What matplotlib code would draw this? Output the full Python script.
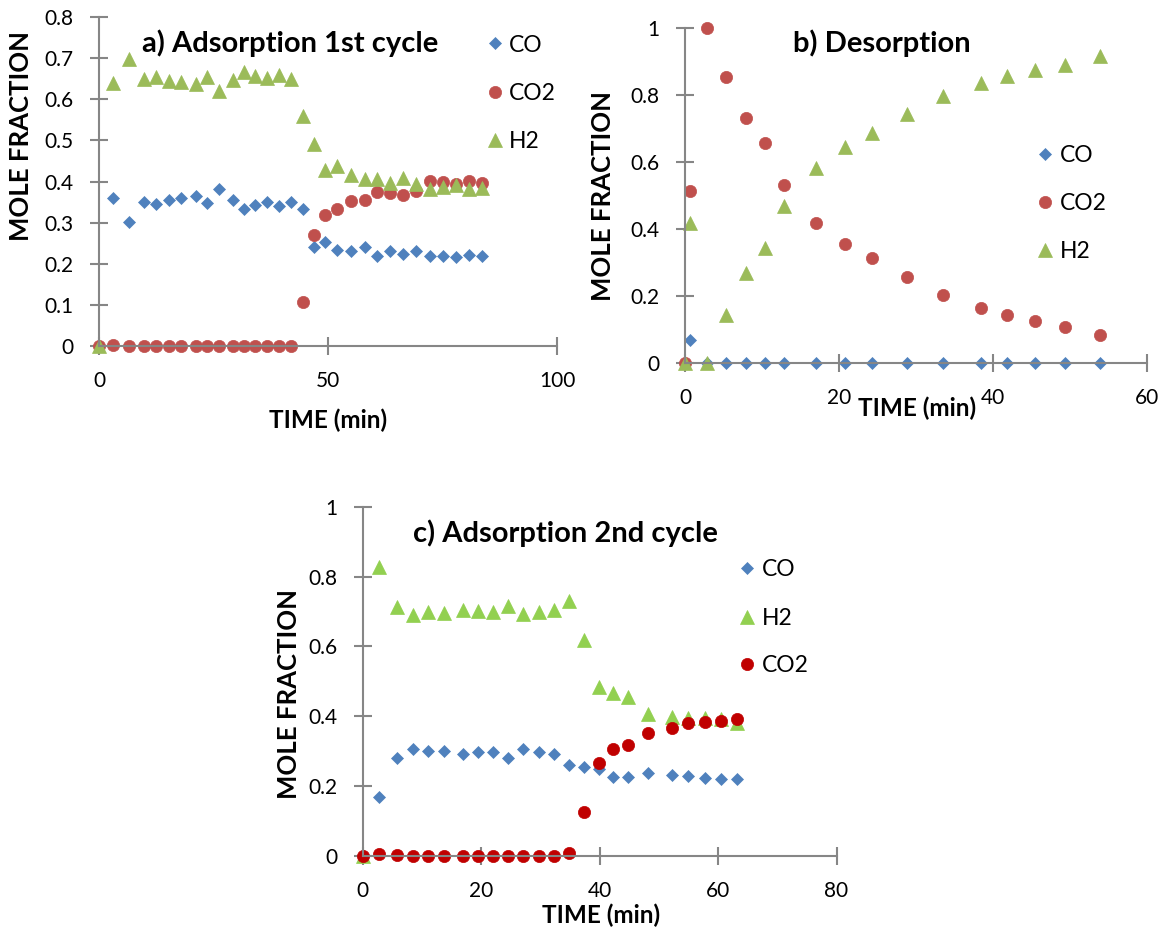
import matplotlib
matplotlib.use("Agg")
import matplotlib.pyplot as plt
from matplotlib.lines import Line2D

plt.rcParams['font.family'] = ['Lato', 'DejaVu Sans']

# ---------------- data ----------------
# a) Adsorption 1st cycle
time_a = [0, 3.1, 6.6, 9.9, 12.5, 15.2, 18.0, 21.1, 23.5, 26.1, 29.3, 31.6, 34.1, 36.6, 39.3,
          41.9, 44.5, 46.9, 49.4, 52.0, 55.1, 58.1, 60.8, 63.5, 66.3, 69.2, 72.3, 75.2, 78.0, 80.7, 83.6]
co_a = [0, 0.359, 0.302, 0.350, 0.345, 0.355, 0.359, 0.364, 0.347, 0.381, 0.354, 0.334, 0.343, 0.349, 0.340,
        0.351, 0.332, 0.240, 0.253, 0.233, 0.231, 0.241, 0.220, 0.231, 0.224, 0.231, 0.219, 0.219, 0.217, 0.222, 0.220]
co2_a = [0, 0.003, 0, 0, 0, 0, 0, 0, 0, 0, 0, 0, 0, 0, 0,
         0, 0.108, 0.270, 0.319, 0.332, 0.353, 0.355, 0.375, 0.372, 0.367, 0.377, 0.401, 0.398, 0.394, 0.401, 0.397]
h2_a = [0, 0.640, 0.698, 0.650, 0.653, 0.645, 0.641, 0.636, 0.653, 0.619, 0.648, 0.666, 0.657, 0.652, 0.659,
        0.649, 0.560, 0.490, 0.428, 0.437, 0.417, 0.405, 0.405, 0.397, 0.409, 0.393, 0.381, 0.386, 0.391, 0.381, 0.385]

# b) Desorption
time_b = [0, 0.6, 2.8, 5.3, 7.9, 10.4, 12.9, 17.0, 20.8, 24.3, 28.8, 33.5, 38.4, 41.8, 45.5, 49.3, 53.9]
co_b = [0, 0.070, 0, 0, 0, 0, 0, 0, 0, 0, 0, 0, 0, 0, 0, 0, 0]
co2_b = [0, 0.512, 1.0, 0.855, 0.732, 0.657, 0.531, 0.418, 0.356, 0.313, 0.256, 0.203, 0.163, 0.143, 0.124, 0.108, 0.085]
h2_b = [0, 0.418, 0, 0.144, 0.269, 0.344, 0.469, 0.582, 0.644, 0.687, 0.744, 0.797, 0.836, 0.856, 0.876, 0.891, 0.915]

# c) Adsorption 2nd cycle
time_c = [0, 2.8, 5.85, 8.5, 11.0, 13.8, 17.0, 19.5, 22.0, 24.6, 27.1, 29.8, 32.3, 34.8,
          37.35, 39.9, 42.3, 44.8, 48.1, 52.25, 55.0, 57.8, 60.5, 63.2]
co_c = [0, 0.167, 0.281, 0.307, 0.299, 0.301, 0.292, 0.296, 0.296, 0.281, 0.305, 0.296, 0.292, 0.260,
        0.254, 0.248, 0.227, 0.225, 0.236, 0.230, 0.229, 0.222, 0.220, 0.220]
h2_c = [0, 0.827, 0.713, 0.691, 0.698, 0.696, 0.705, 0.702, 0.700, 0.715, 0.693, 0.700, 0.705, 0.729,
        0.619, 0.483, 0.466, 0.455, 0.407, 0.399, 0.394, 0.394, 0.392, 0.380]
co2_c = [0, 0.005, 0.002, 0, 0, 0, 0, 0, 0, 0, 0, 0, 0, 0.008,
         0.125, 0.266, 0.305, 0.318, 0.353, 0.367, 0.380, 0.383, 0.387, 0.392]

# ---------------- style ----------------
W, H = 1173, 939
fig = plt.figure(figsize=(W / 100, H / 100), dpi=100)

BLUE = '#4F81BD'
RED = '#C0504D'
GREEN = '#9BBB59'
GREEN2 = '#92D050'
RED2 = '#C00000'
AXC = '#868686'

MK = {'D': 6.1, 'o': 8.8, '^': 9.4}

TICK_FS = 15
LEG_FS = 16.5
YLAB_FS = 18.5
XLAB_FS = 17.5
TIT_FS = 21


def fx(px):
    return px / W


def fy(py):
    return 1 - py / H


def make_axes(left, right, top, bottom):
    ax = fig.add_axes([fx(left), fy(bottom), fx(right) - fx(left), fy(top) - fy(bottom)])
    ax.set_facecolor('none')
    for s in ('top', 'right'):
        ax.spines[s].set_visible(False)
    for s in ('left', 'bottom'):
        ax.spines[s].set_color(AXC)
        ax.spines[s].set_linewidth(1.5)
    ax.tick_params(direction='inout', length=12.5, width=1.5, color=AXC,
                   labelsize=TICK_FS, pad=12, labelcolor='black')
    return ax


def fmt(v):
    return f"{v:g}"


def scatter(ax, x, y, marker, color):
    ax.plot(x, y, linestyle='none', marker=marker, markersize=MK[marker],
            markerfacecolor=color, markeredgecolor=color, markeredgewidth=0.5, clip_on=False)


def legend(entries, mx, tx, ys):
    for (label, marker, color), y in zip(entries, ys):
        fig.lines.append(Line2D([fx(mx)], [fy(y)], transform=fig.transFigure, linestyle='none',
                                marker=marker, markersize=MK[marker], markerfacecolor=color,
                                markeredgecolor=color, markeredgewidth=0.5))
        fig.text(fx(tx), fy(y), label, fontsize=LEG_FS, ha='left', va='center_baseline')


def ylabel(x, y):
    fig.text(fx(x), fy(y), 'MOLE FRACTION', fontsize=YLAB_FS, fontweight='bold', rotation=90,
             ha='center', va='center')


def xlabel(x, y):
    fig.text(fx(x), fy(y), 'TIME (min)', fontsize=XLAB_FS, fontweight='bold', ha='center', va='center')


# ---------------- panel a ----------------
axa = make_axes(99, 557, 17, 346)
scatter(axa, time_a, co_a, 'D', BLUE)
scatter(axa, time_a, co2_a, 'o', RED)
scatter(axa, time_a, h2_a, '^', GREEN)
axa.set_xlim(0, 100)
axa.set_ylim(0, 0.8)
xt = [0, 50, 100]
yt = [0, 0.1, 0.2, 0.3, 0.4, 0.5, 0.6, 0.7, 0.8]
axa.set_xticks(xt, [fmt(v) for v in xt])
axa.set_yticks(yt, [fmt(v) for v in yt])
fig.text(fx(290), fy(52), 'a) Adsorption 1st cycle', fontsize=TIT_FS, fontweight='bold',
         ha='center', va='baseline')
ylabel(21, 136)
xlabel(328, 420)
legend([('CO', 'D', BLUE), ('CO2', 'o', RED), ('H2', '^', GREEN)], 495, 509, [43, 91.5, 140])

# ---------------- panel b ----------------
axb = make_axes(685, 1147, 28, 363)
scatter(axb, time_b, co_b, 'D', BLUE)
scatter(axb, time_b, co2_b, 'o', RED)
scatter(axb, time_b, h2_b, '^', GREEN)
axb.set_xlim(0, 60)
axb.set_ylim(0, 1)
xt = [0, 20, 40, 60]
yt = [0, 0.2, 0.4, 0.6, 0.8, 1]
axb.set_xticks(xt, [fmt(v) for v in xt])
axb.set_yticks(yt, [fmt(v) for v in yt])
fig.text(fx(882), fy(52), 'b) Desorption', fontsize=TIT_FS, fontweight='bold',
         ha='center', va='baseline')
ylabel(603, 196)
xlabel(917, 408)
legend([('CO', 'D', BLUE), ('CO2', 'o', RED), ('H2', '^', GREEN)], 1045, 1060, [154, 201.5, 250])

# ---------------- panel c ----------------
axc = make_axes(362.7, 836.5, 507, 855.7)
scatter(axc, time_c, co_c, 'D', BLUE)
scatter(axc, time_c, h2_c, '^', GREEN2)
scatter(axc, time_c, co2_c, 'o', RED2)
axc.set_xlim(0, 80)
axc.set_ylim(0, 1)
xt = [0, 20, 40, 60, 80]
yt = [0, 0.2, 0.4, 0.6, 0.8, 1]
axc.set_xticks(xt, [fmt(v) for v in xt])
axc.set_yticks(yt, [fmt(v) for v in yt])
fig.text(fx(565), fy(542), 'c) Adsorption 2nd cycle', fontsize=TIT_FS, fontweight='bold',
         ha='center', va='baseline')
ylabel(289, 694)
xlabel(601, 915)
legend([('CO', 'D', BLUE), ('H2', '^', GREEN2), ('CO2', 'o', RED2)], 747, 762, [568, 616.5, 664])

fig.savefig('out.png', dpi=100)
